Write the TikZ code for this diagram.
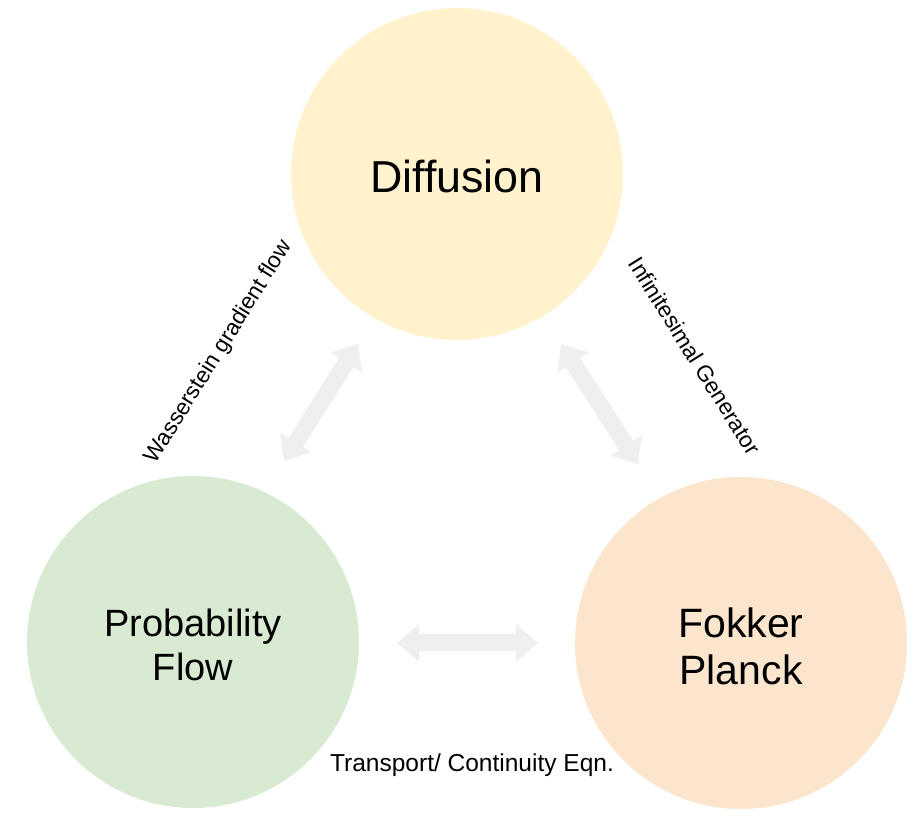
\documentclass[tikz,border=0pt]{standalone}
\usepackage{fontspec}
\setmainfont{Liberation Sans}
\usetikzlibrary{arrows.meta}
\definecolor{cyellow}{HTML}{FFF2CC}
\definecolor{cgreen}{HTML}{D9EAD3}
\definecolor{corange}{HTML}{FCE5CD}
\definecolor{arrowgray}{HTML}{EFEFEF}
\tikzset{
  bubble/.style={circle, draw=none, minimum size=332pt, inner sep=0pt},
  bigtext/.style={align=center, inner sep=0pt},
  lbl/.style={font=\fontsize{24.5}{28}\selectfont, inner sep=0pt},
  rlbl/.style={font=\fontsize{22.6}{26}\selectfont, inner sep=0pt},
  fatarrow/.style={draw=arrowgray, line width=17pt,
    {Triangle[width=36pt,length=22pt]}-{Triangle[width=36pt,length=22pt]}}
}
\begin{document}
\begin{tikzpicture}[x=1pt,y=1pt]
\useasboundingbox (0,0) rectangle (924,816);
\node[bubble, fill=cyellow] (diff) at (457,642) {};
\node[bubble, fill=cgreen] (prob) at (193,174) {};
\node[bubble, fill=corange] (fp) at (741,173) {};
\node[bigtext, font=\fontsize{44.8}{50}\selectfont] (tdiff) at (457,640) {Diffusion};
\node[bigtext, font=\fontsize{38}{44}\selectfont] (tprob) at (193,171) {Probability\\Flow};
\node[bigtext, font=\fontsize{41}{47}\selectfont] (tfp) at (741,170) {Fokker\\Planck};
\coordinate (l1) at (284,355);
\coordinate (l2) at (358,472);
\coordinate (r1) at (561,472);
\coordinate (r2) at (638,352);
\coordinate (b1) at (397,173);
\coordinate (b2) at (538,173);
\draw[fatarrow] (l1) -- (l2);
\draw[fatarrow] (r1) -- (r2);
\draw[fatarrow] (b1) -- (b2);
\node[rlbl, rotate=58] (wgf) at (219,464) {Wasserstein gradient flow};
\node[rlbl, rotate=-58] (ig) at (695,460) {Infinitesimal Generator};
\node[lbl] (tce) at (472,51) {Transport/ Continuity Eqn.};
\end{tikzpicture}
\end{document}
